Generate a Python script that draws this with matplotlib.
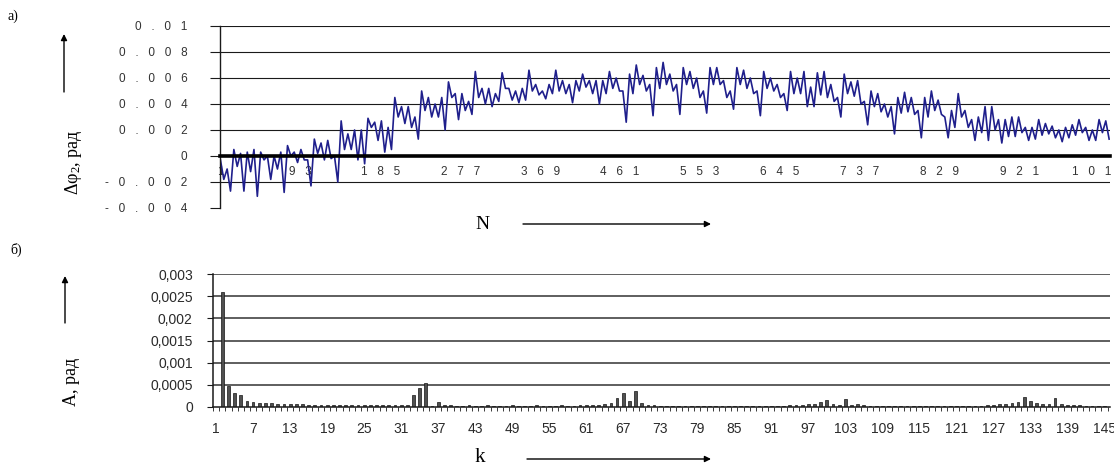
import numpy as np
import matplotlib
matplotlib.use("Agg")
import matplotlib.pyplot as plt
from matplotlib.ticker import FixedLocator, FixedFormatter

plt.rcParams["font.family"] = ["Liberation Sans", "DejaVu Sans"]
plt.rcParams["mathtext.fontset"] = "custom"
plt.rcParams["mathtext.rm"] = "Liberation Serif"
plt.rcParams["mathtext.it"] = "Liberation Serif:italic"

# ---------------- data: panel a) (values in 1e-3 rad), local max / min per ~7.7 samples
dphi_high = [
    -0.3, -1.0, 0.5, 0.2, 0.3, 0.5, 0.3, 0.0, 0.0, 0.3, 0.8, 0.3, 0.5, -0.3, 1.3, 1.0,
    1.2, 0.0, 2.7, 1.7, 2.0, 2.0, 2.9, 2.6, 2.7, 2.2, 4.5, 3.8, 3.8, 3.0, 5.0, 4.5,
    4.0, 4.5, 5.7, 4.8, 4.8, 4.2, 6.5, 5.2, 5.2, 4.8, 6.4, 5.2,
    5.0, 5.2, 6.6, 5.5, 5.0, 5.5, 6.6, 5.8, 5.5, 5.8, 6.3, 5.8, 5.8, 5.8, 6.5, 6.0,
    5.0, 6.3, 7.0, 6.2, 5.5, 6.8, 7.2, 6.3, 5.5, 6.8, 6.5, 6.0, 5.0, 6.8, 6.8, 5.8,
    5.0, 6.8, 6.6, 6.0, 5.0, 6.5, 6.0, 5.5, 4.8, 6.5, 6.0, 6.5,
    5.3, 6.4, 6.5, 5.5, 4.5, 6.3, 5.7, 5.8, 4.2, 5.0, 4.8, 4.0, 3.8, 4.5, 4.9, 4.5,
    3.5, 4.5, 5.0, 4.3, 3.0, 3.5, 4.8, 3.5, 2.8, 3.0, 3.8, 3.8, 2.8, 2.8, 3.0, 3.0,
    2.2, 2.2, 2.8, 2.5, 2.3, 2.0, 2.2, 2.4, 2.8, 2.2, 2.0, 2.8, 2.7,
]
dphi_low = [
    -1.8, -2.7, -0.8, -2.7, -1.2, -3.1, -0.3, -1.8, -1.0, -2.8, 0.0, -0.5, -0.3, -2.3, 0.2, -0.3,
    -0.2, -2.0, 0.5, 0.5, -0.3, -0.6, 2.2, 1.2, 0.3, 0.5, 3.0, 2.5, 2.2, 1.3, 3.5, 3.0,
    3.0, 2.0, 4.5, 2.8, 3.5, 3.2, 4.5, 4.0, 3.8, 4.2, 5.2, 4.3,
    4.1, 4.3, 5.0, 4.7, 4.4, 4.8, 5.0, 4.8, 4.1, 5.0, 5.3, 4.8, 4.0, 4.8, 5.2, 5.0,
    2.6, 4.8, 5.5, 5.0, 3.1, 5.2, 5.5, 5.0, 3.2, 5.5, 5.2, 4.5, 3.3, 5.5, 5.5, 4.5,
    3.6, 5.5, 5.2, 4.8, 3.1, 5.2, 5.0, 4.5, 3.5, 4.8, 4.8, 3.8,
    3.8, 4.7, 4.5, 4.2, 3.0, 4.8, 4.6, 4.0, 2.4, 3.8, 3.4, 3.0, 1.7, 3.3, 3.4, 3.2,
    1.4, 3.0, 3.5, 3.2, 1.4, 2.2, 3.0, 2.2, 1.2, 1.8, 1.2, 2.0, 1.0, 1.5, 1.5, 1.8,
    1.2, 1.3, 1.6, 1.7, 1.4, 1.1, 1.4, 1.6, 1.8, 1.2, 1.2, 1.8, 1.3,
]
N_total = 1024
N_tick_values = [1, 93, 185, 277, 369, 461, 553, 645, 737, 829, 921, 1013]
top_ytick_values = [-0.004, -0.002, 0.0, 0.002, 0.004, 0.006, 0.008, 0.01]
top_ytick_text = ["-0.004", "-0.002", "0", "0.002", "0.004", "0.006", "0.008", "0.01"]

# ---------------- data: panel б) spectrum amplitudes, k = 1..145
amp = [
    0.0, 0.0026, 0.00048, 0.00032, 0.00028, 0.00014, 0.00012, 0.0001, 0.00009, 0.00008,
    0.00007, 0.00007, 0.00006, 0.00006, 0.00006, 0.00005, 0.00005, 0.00005, 0.00005, 0.00005,
    0.00004, 0.00005, 0.00004, 0.00004, 0.00005, 0.00004, 0.00004, 0.00004, 0.00005, 0.00004,
    0.00004, 0.00004, 0.00026, 0.00042, 0.00055, 0.00003, 0.00011, 0.00005, 0.00004, 0.00003,
    0.00003, 0.00004, 0.00003, 0.00003, 0.00004, 0.00003, 0.00003, 0.00003, 0.00004, 0.00003,
    0.00003, 0.00003, 0.00004, 0.00003, 0.00003, 0.00003, 0.00004, 0.00003, 0.00003, 0.00004,
    0.00004, 0.00004, 0.00005, 0.00007, 0.0001, 0.00021, 0.00032, 0.00014, 0.00036, 0.00008,
    0.00005, 0.00004, 0.00003, 0.00003, 0.00003, 0.00003, 0.00003, 0.00003, 0.00003, 0.00003,
    0.00003, 0.00003, 0.00003, 0.00003, 0.00003, 0.00003, 0.00003, 0.00003, 0.00003, 0.00003,
    0.00003, 0.00003, 0.00003, 0.00004, 0.00004, 0.00005, 0.00006, 0.00007, 0.00011, 0.00016,
    0.00007, 0.00005, 0.00017, 0.00005, 0.00006, 0.00004, 0.00003, 0.00003, 0.00003, 0.00003,
    0.00003, 0.00003, 0.00003, 0.00003, 0.00003, 0.00003, 0.00003, 0.00003, 0.00003, 0.00003,
    0.00003, 0.00003, 0.00003, 0.00003, 0.00003, 0.00004, 0.00005, 0.00006, 0.00007, 0.0001,
    0.00012, 0.00023, 0.00013, 0.0001, 0.00007, 0.00006, 0.0002, 0.00006, 0.00005, 0.00004,
    0.00004, 0.00003, 0.00003, 0.00003, 0.00003,
]
k_tick_values = list(range(1, 146, 6))
bot_ytick_values = [0, 0.0005, 0.001, 0.0015, 0.002, 0.0025, 0.003]
bot_ytick_text = ["0", "0,0005", "0,001", "0,0015", "0,002", "0,0025", "0,003"]

# ---------------- figure
W, H = 1114, 468
fig = plt.figure(figsize=(W / 100, H / 100), dpi=100)
fig.patch.set_facecolor("white")


def spaced(s, gap="   "):
    return gap.join(list(s))


# ----- panel a)
ax1 = fig.add_axes([220 / W, 1 - 208 / H, (1110 - 220) / W, (208 - 26) / H])
vals = []
for hi, lo in zip(dphi_high, dphi_low):
    vals.extend([hi * 1e-3, lo * 1e-3])
vals = np.array(vals)
N = np.linspace(1, N_total, len(vals))
ax1.plot(N, vals, color="#1f1f8c", lw=1.2, zorder=2)
ax1.set_xlim(0.5, 1025)
ax1.set_ylim(-0.004, 0.01)
for v in top_ytick_values:
    if v > top_ytick_values[0] and v != 0:
        ax1.axhline(v, color="#1a1a1a", lw=0.8, zorder=1)
for s in ("top", "right"):
    ax1.spines[s].set_visible(False)
ax1.spines["bottom"].set_position(("data", 0))
ax1.spines["bottom"].set_linewidth(2.6)
ax1.spines["bottom"].set_color("black")
ax1.spines["bottom"].set_zorder(3)
ax1.spines["left"].set_linewidth(1.0)
ax1.spines["left"].set_color("#1a1a1a")
ax1.yaxis.set_major_locator(FixedLocator(top_ytick_values))
ax1.yaxis.set_major_formatter(FixedFormatter([spaced(t) for t in top_ytick_text]))
ax1.xaxis.set_major_locator(FixedLocator(N_tick_values))
ax1.xaxis.set_major_formatter(FixedFormatter([spaced(str(n)) for n in N_tick_values]))
ax1.tick_params(axis="y", direction="out", length=7.5, width=0.8, pad=16,
                labelsize=8.5, labelcolor="#333333", color="#1a1a1a")
ax1.tick_params(axis="x", length=0, pad=7, labelsize=8.5, labelcolor="#333333")

# ----- panel б)
ax2 = fig.add_axes([213 / W, 1 - 407 / H, (1110 - 213) / W, (407 - 274) / H])
k = np.arange(1, len(amp) + 1)
ax2.bar(k, amp, width=0.45, color="#505050", edgecolor="#151515", lw=0.5, zorder=2)
ax2.set_xlim(0.5, 145.9)
ax2.set_ylim(0, 0.003)
for v in bot_ytick_values[1:]:
    ax2.axhline(v, color="#333333", lw=1.1, zorder=1)
for s in ("top", "right"):
    ax2.spines[s].set_visible(False)
for s in ("left", "bottom"):
    ax2.spines[s].set_linewidth(1.1)
    ax2.spines[s].set_color("#1a1a1a")
ax2.yaxis.set_major_locator(FixedLocator(bot_ytick_values))
ax2.yaxis.set_major_formatter(FixedFormatter(bot_ytick_text))
ax2.xaxis.set_major_locator(FixedLocator(k_tick_values))
ax2.xaxis.set_major_formatter(FixedFormatter([str(v) for v in k_tick_values]))
ax2.xaxis.set_minor_locator(FixedLocator(np.arange(0.5, len(amp) + 1, 1.0)))
ax2.tick_params(axis="y", direction="out", length=4.5, width=0.8, pad=10,
                labelsize=10, labelcolor="#2a2a2a", color="#1a1a1a")
ax2.tick_params(axis="x", which="major", length=0, pad=11, labelsize=10, labelcolor="#2a2a2a")
ax2.tick_params(axis="x", which="minor", direction="out", length=3, width=0.6, color="#1a1a1a")

# ----- annotations
serif = ["Liberation Serif", "DejaVu Serif"]
fig.text(8 / W, 1 - 16 / H, "a)", family=serif, fontsize=10, va="center", ha="left")
fig.text(10 / W, 1 - 250 / H, "б)", family=serif, fontsize=10, va="center", ha="left")
fig.text(73 / W, 1 - 162 / H, "Δφ$_2$, рад", family=serif, fontsize=13,
         rotation=90, ha="center", va="center")
fig.text(72 / W, 1 - 382 / H, "A, рад", family=serif, fontsize=13,
         rotation=90, ha="center", va="center")
fig.text(482 / W, 1 - 224 / H, "N", family=serif, fontsize=14, ha="center", va="center")
fig.text(480 / W, 1 - 457 / H, "k", family=serif, fontsize=15, ha="center", va="center")

arrow = dict(arrowstyle="-|>", color="black", lw=1.0, mutation_scale=9, shrinkA=0, shrinkB=0)
fig.add_artist(matplotlib.patches.FancyArrowPatch((64 / W, 1 - 92 / H), (64 / W, 1 - 34 / H),
                                                  transform=fig.transFigure, **arrow))
fig.add_artist(matplotlib.patches.FancyArrowPatch((65 / W, 1 - 323 / H), (65 / W, 1 - 276 / H),
                                                  transform=fig.transFigure, **arrow))
fig.add_artist(matplotlib.patches.FancyArrowPatch((523 / W, 1 - 224 / H), (711 / W, 1 - 224 / H),
                                                  transform=fig.transFigure, **arrow))
fig.add_artist(matplotlib.patches.FancyArrowPatch((527 / W, 1 - 459 / H), (711 / W, 1 - 459 / H),
                                                  transform=fig.transFigure, **arrow))

fig.savefig("out.png", dpi=100, facecolor="white")
